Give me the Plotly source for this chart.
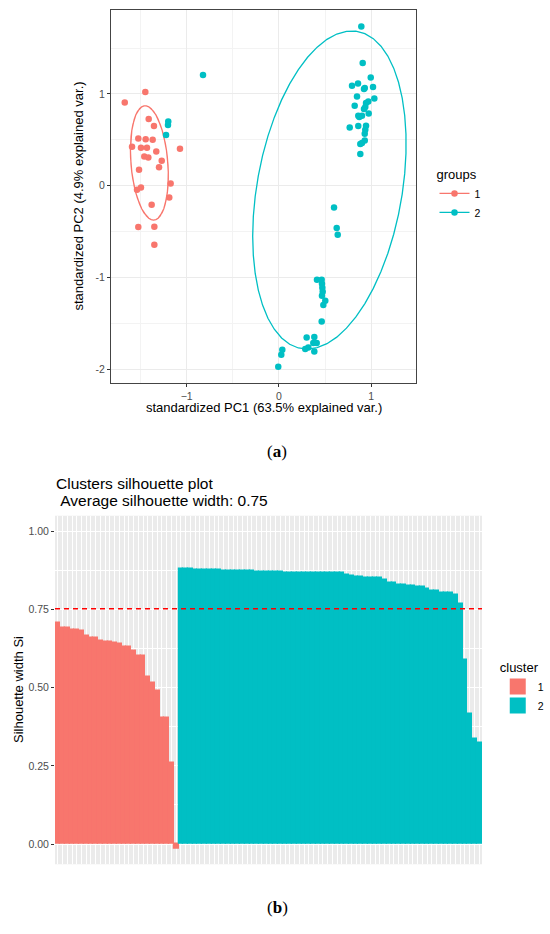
import numpy as np
import plotly.graph_objects as go

# ---------------- data: PCA biplot (a) ----------------
pc1_g1 = [-1.672, -1.449, -1.412, -1.355, -1.525, -1.445, -1.369, -1.593, -1.496, -1.431,
          -1.330, -1.460, -1.416, -1.271, -1.300, -1.517, -1.174, -1.496, -1.539, -1.189,
          -1.380, -1.525, -1.351, -1.351, -1.073]
pc2_g1 = [0.907, 1.021, 0.727, 0.650, 0.515, 0.508, 0.501, 0.425, 0.414, 0.414,
          0.374, 0.319, 0.308, 0.272, 0.203, 0.174, 0.025, -0.019, -0.044, -0.127,
          -0.207, -0.450, -0.447, -0.643, 0.403]

pc1_g2 = [-0.823, -1.200, -1.203, -1.224,
          0.894, 0.909, 0.996, 0.793, 0.858, 0.923, 0.931, 1.021, 0.847, 1.035,
          0.970, 0.945, 0.822, 0.937, 0.923, 0.974, 0.861, 0.901, 0.872, 0.945,
          0.768, 0.861, 0.937, 0.931, 0.931, 0.901, 0.883, 0.883,
          0.598, 0.627, 0.638,
          0.413, 0.464, 0.467, 0.471, 0.475, 0.467, 0.503, 0.482, 0.464,
          0.301, 0.384, 0.286, 0.319, 0.373, 0.410, 0.384, 0.037, 0.026, -0.007]
pc2_g2 = [1.206, 0.700, 0.661, 0.552,
          1.735, 1.337, 1.180, 1.089, 1.115, 1.053, 1.064, 1.075, 0.973, 0.951,
          0.918, 0.901, 0.871, 0.857, 0.836, 0.788, 0.763, 0.763, 0.748, 0.654,
          0.635, 0.650, 0.610, 0.566, 0.494, 0.465, 0.454, 0.345,
          -0.236, -0.461, -0.534,
          -1.024, -1.024, -1.068, -1.111, -1.155, -1.198, -1.253, -1.300, -1.478,
          -1.652, -1.649, -1.779, -1.761, -1.714, -1.714, -1.805, -1.787, -1.841, -1.972]

group_names = ["1", "2"]
pca_x_title = "standardized PC1 (63.5% explained var.)"
pca_y_title = "standardized PC2 (4.9% explained var.)"
pca_y_tickvals = [-2, -1, 0, 1]
pca_y_ticktext = ["-2", "-1", "0", "1"]
ellipse_prob = 0.68

# ---------------- data: silhouette plot (b) ----------------
sil_cluster1 = [0.710, 0.694, 0.694, 0.686, 0.686, 0.683, 0.667, 0.662, 0.662, 0.652,
                0.648, 0.648, 0.646, 0.640, 0.632, 0.632, 0.618, 0.602, 0.602, 0.536,
                0.516, 0.492, 0.405, 0.405, 0.260, -0.016]
sil_cluster2 = [0.881, 0.880, 0.880, 0.879, 0.879, 0.878, 0.878, 0.877, 0.877, 0.876,
                0.876, 0.876, 0.875, 0.875, 0.874, 0.874, 0.873, 0.873, 0.872, 0.872,
                0.871, 0.871, 0.870, 0.870, 0.870, 0.869, 0.869, 0.869, 0.868, 0.868,
                0.867, 0.867, 0.867, 0.867, 0.867, 0.861, 0.858, 0.855, 0.855, 0.851,
                0.851, 0.851, 0.851, 0.845, 0.835, 0.835, 0.830, 0.830, 0.828, 0.828,
                0.825, 0.825, 0.816, 0.811, 0.811, 0.806, 0.806, 0.806, 0.798, 0.768,
                0.589, 0.418, 0.338, 0.324]
cluster_names = ["1", "2"]
avg_sil = 0.753
sil_title1 = "Clusters silhouette plot"
sil_title2 = "\u00a0Average silhouette width: 0.75"
sil_y_title = "Silhouette width Si"
sil_y_tickvals = [0.0, 0.25, 0.5, 0.75, 1.0]
sil_y_ticktext = ["0.00", "0.25", "0.50", "0.75", "1.00"]

RED = "#F8766D"
CYAN = "#00BFC4"
FONT = "Liberation Sans, Arial, sans-serif"
W, H = 550, 934


def px_x(p):
    return p / W


def px_y(p):
    return 1 - p / H


def ellipse(xs, ys, prob):
    xs = np.asarray(xs, float)
    ys = np.asarray(ys, float)
    sigma = np.cov(np.vstack([xs, ys]))
    mu = np.array([xs.mean(), ys.mean()])
    ed = np.sqrt(-2 * np.log(1 - prob))  # sqrt(qchisq(prob, 2))
    theta = np.concatenate([np.linspace(-np.pi, np.pi, 50), np.linspace(np.pi, -np.pi, 50)])
    circle = np.column_stack([np.cos(theta), np.sin(theta)])
    L = np.linalg.cholesky(sigma)
    pts = circle @ L.T * ed + mu
    return pts[:, 0], pts[:, 1]


fig = go.Figure()

# --- panel (a) ---
for xs, ys, col, name in [(pc1_g1, pc2_g1, RED, group_names[0]), (pc1_g2, pc2_g2, CYAN, group_names[1])]:
    ex, ey = ellipse(xs, ys, ellipse_prob)
    fig.add_trace(go.Scatter(x=ex, y=ey, mode="lines", line=dict(color=col, width=1.3),
                             showlegend=False, hoverinfo="skip", xaxis="x", yaxis="y"))
    fig.add_trace(go.Scatter(x=xs, y=ys, mode="markers", marker=dict(color=col, size=6.5),
                             showlegend=False, xaxis="x", yaxis="y", name=name))
    # legend key (point + line)
    fig.add_trace(go.Scatter(x=[None], y=[None], mode="lines+markers", name=name,
                             marker=dict(color=col, size=6.5), line=dict(color=col, width=1.3),
                             legend="legend", xaxis="x", yaxis="y"))

# --- panel (b) ---
n1 = len(sil_cluster1)
x1 = list(range(n1))
x2 = list(range(n1, n1 + len(sil_cluster2)))
for xs, vals, col, name in [(x1, sil_cluster1, RED, cluster_names[0]), (x2, sil_cluster2, CYAN, cluster_names[1])]:
    fig.add_trace(go.Bar(x=xs, y=vals, marker=dict(color=col, line=dict(color=col, width=1.2)),
                         width=1.0, showlegend=False, xaxis="x2", yaxis="y2", name=name))
    fig.add_trace(go.Scatter(x=[None], y=[None], mode="markers", name=name,
                             marker=dict(color=col, size=16, symbol="square"),
                             legend="legend2", xaxis="x2", yaxis="y2"))

n_total = n1 + len(sil_cluster2)

fig.add_shape(type="rect", xref="x2 domain", yref="y2 domain", x0=0, x1=1, y0=0, y1=1,
              fillcolor="#EBEBEB", line=dict(width=0), layer="below")
fig.add_shape(type="line", xref="x2 domain", yref="y2", x0=0, x1=1, y0=avg_sil, y1=avg_sil,
              line=dict(color="#FF0000", width=1.5, dash="5px,4px"))

tickfont = dict(family=FONT, size=10.5, color="#4D4D4D")

fig.update_layout(
    width=W, height=H,
    margin=dict(l=0, r=0, t=0, b=0),
    paper_bgcolor="white", plot_bgcolor="white",
    barmode="overlay", bargap=0,
    font=dict(family=FONT, color="black"),
    xaxis=dict(domain=[px_x(111), px_x(416)], range=[-1.821, 1.487], anchor="y",
               tick0=0, dtick=1, showgrid=True, gridcolor="#EBEBEB", gridwidth=1.1,
               minor=dict(dtick=0.5, showgrid=True, gridcolor="#F3F3F3", gridwidth=0.7),
               zeroline=False, showline=True, mirror=True, linecolor="#444", linewidth=1,
               ticks="outside", ticklen=3, tickcolor="#333", tickfont=tickfont),
    yaxis=dict(domain=[px_y(383), px_y(10)], range=[-2.149, 1.915], anchor="x",
               tickvals=pca_y_tickvals, ticktext=pca_y_ticktext,
               showgrid=True, gridcolor="#EBEBEB", gridwidth=1.1,
               minor=dict(tickvals=[-1.5, -0.5, 0.5, 1.5], showgrid=True, gridcolor="#F3F3F3", gridwidth=0.7),
               zeroline=False, showline=True, mirror=True, linecolor="#444", linewidth=1,
               ticks="outside", ticklen=3, tickcolor="#333", tickfont=tickfont),
    xaxis2=dict(domain=[px_x(55), px_x(482)], range=[-0.6, n_total - 0.4], anchor="y2",
                tickvals=list(range(n_total)), showticklabels=False, ticks="",
                showgrid=True, gridcolor="white", gridwidth=1, zeroline=False, showline=False),
    yaxis2=dict(domain=[px_y(864.3), px_y(515.7)], range=[-0.065, 1.051], anchor="x2",
                tickvals=sil_y_tickvals, ticktext=sil_y_ticktext,
                showgrid=True, gridcolor="white", gridwidth=1.2,
                minor=dict(tickvals=[0.125, 0.375, 0.625, 0.875], showgrid=True, gridcolor="white", gridwidth=0.6),
                zeroline=False, showline=False,
                ticks="outside", ticklen=3, tickcolor="#333", tickfont=tickfont),
    legend=dict(x=0.79, y=px_y(162), xanchor="left", yanchor="top",
                title=dict(text="groups", font=dict(family=FONT, size=13)),
                font=dict(family=FONT, size=10.5), bgcolor="rgba(0,0,0,0)", tracegroupgap=0),
    legend2=dict(x=0.905, y=px_y(655), xanchor="left", yanchor="top",
                 title=dict(text="cluster", font=dict(family=FONT, size=13)),
                 font=dict(family=FONT, size=10.5), bgcolor="rgba(0,0,0,0)", tracegroupgap=0),
    annotations=[
        dict(text=pca_x_title, x=px_x(264), y=px_y(408), xref="paper", yref="paper",
             showarrow=False, xanchor="center", yanchor="middle", font=dict(family=FONT, size=13)),
        dict(text=pca_y_title, x=px_x(78), y=px_y(196.5), xref="paper", yref="paper",
             showarrow=False, textangle=-90, xanchor="center", yanchor="middle", font=dict(family=FONT, size=13)),
        dict(text="(<b>a</b>)", x=px_x(277), y=px_y(451), xref="paper", yref="paper",
             showarrow=False, xanchor="center", yanchor="middle",
             font=dict(family="Liberation Serif, serif", size=17)),
        dict(text=sil_title1, x=px_x(54), y=px_y(483), xref="paper", yref="paper",
             showarrow=False, xanchor="left", yanchor="middle", font=dict(family=FONT, size=15.5)),
        dict(text=sil_title2, x=px_x(54), y=px_y(500), xref="paper", yref="paper",
             showarrow=False, xanchor="left", yanchor="middle", font=dict(family=FONT, size=15.5)),
        dict(text=sil_y_title, x=px_x(18), y=px_y(690), xref="paper", yref="paper",
             showarrow=False, textangle=-90, xanchor="center", yanchor="middle", font=dict(family=FONT, size=13)),
        dict(text="(<b>b</b>)", x=px_x(277), y=px_y(907), xref="paper", yref="paper",
             showarrow=False, xanchor="center", yanchor="middle",
             font=dict(family="Liberation Serif, serif", size=17)),
    ],
)

fig.write_html(
    "out.html",
    config={"displayModeBar": False},
    post_script="document.body.style.margin='0';document.body.style.padding='0';"
                "document.documentElement.style.overflow='hidden';document.body.style.overflow='hidden';",
)
